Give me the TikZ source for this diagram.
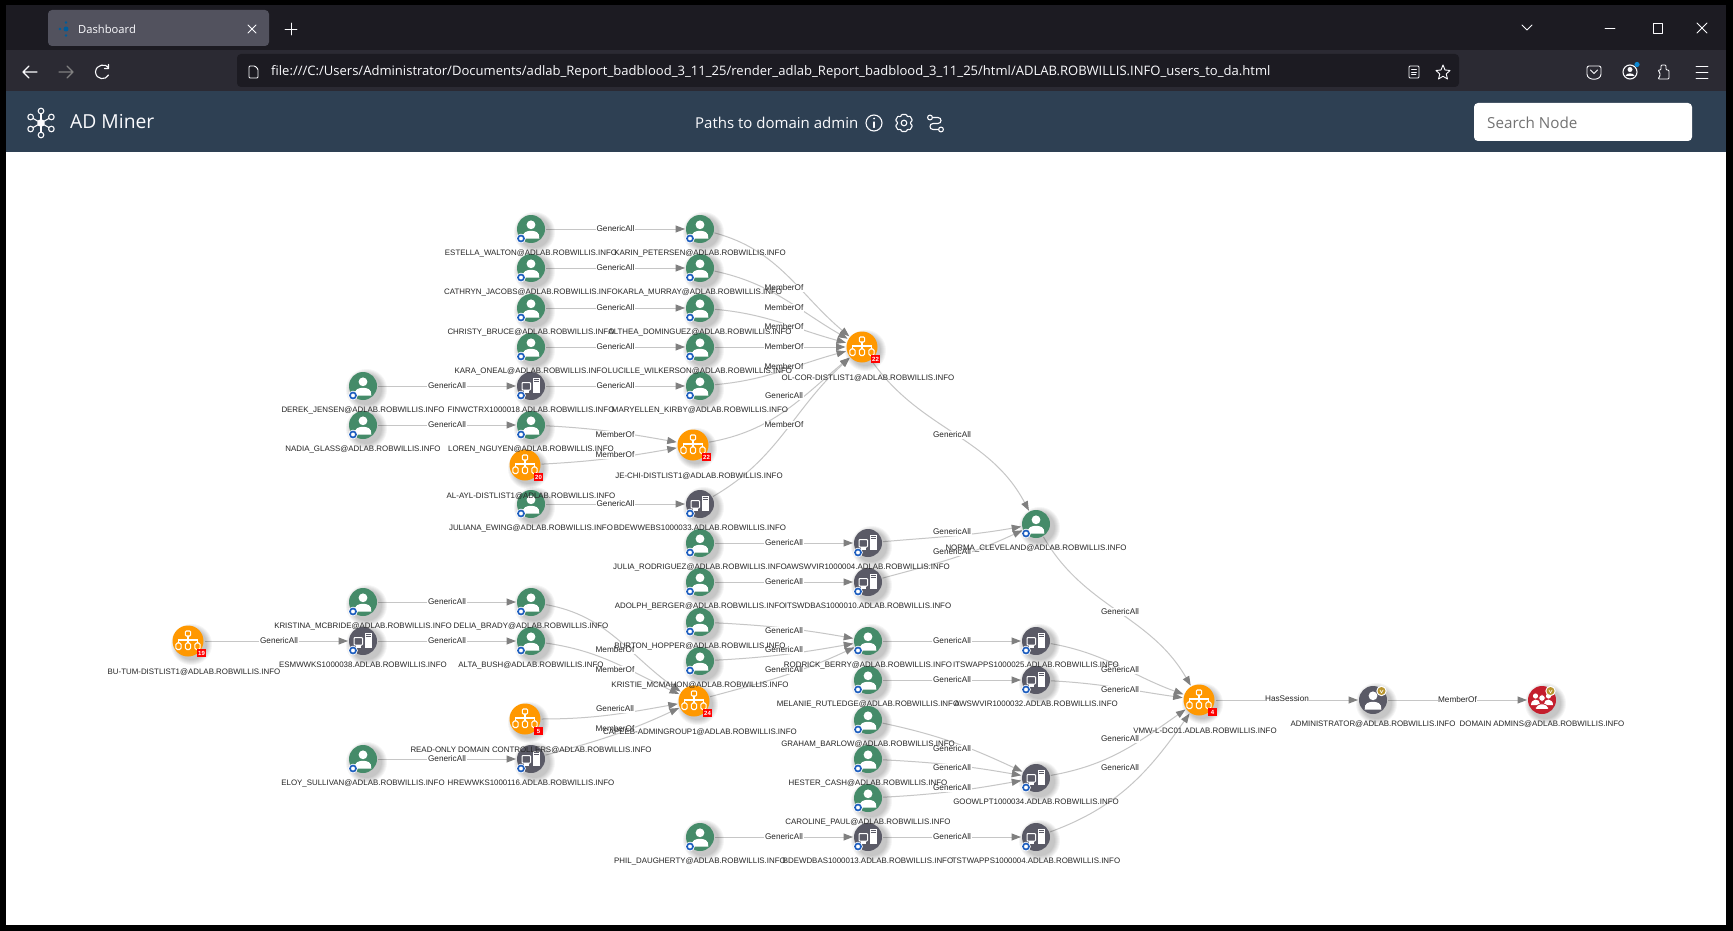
\documentclass[tikz,border=0pt]{standalone}
\usepackage{fontspec}
\setmainfont{Liberation Sans}
\newfontfamily\uifont{Open Sans}
\usetikzlibrary{arrows.meta,calc,positioning}
\definecolor{usergreen}{HTML}{458B69}
\definecolor{hostgray}{HTML}{5A5A66}
\definecolor{orgorange}{HTML}{FF9800}
\definecolor{adminred}{HTML}{C41E2D}
\definecolor{ownedblue}{HTML}{1F5FBF}
\definecolor{goldbadge}{HTML}{B8952E}
\definecolor{linegray}{HTML}{C6C6C6}
\definecolor{tipgray}{HTML}{808080}
\definecolor{tabbar}{HTML}{1C1B22}
\definecolor{tabgray}{HTML}{52525E}
\definecolor{toolbar}{HTML}{2B2A33}
\definecolor{headblue}{HTML}{2E4053}
\definecolor{uitext}{HTML}{FBFBFE}
\pgfdeclarelayer{chrome}
\pgfdeclarelayer{edgelayer}
\pgfdeclarelayer{captions}
\pgfsetlayers{chrome,edgelayer,main,captions}
\tikzset{
  entity/.style={circle, inner sep=0pt, minimum size=28pt, outer sep=1pt},
  userbox/.style={entity, fill=usergreen},
  hostbox/.style={entity, fill=hostgray},
  orgbox/.style={entity, fill=orgorange, minimum size=31pt},
  redbox/.style={entity, fill=adminred},
  caption/.style={inner sep=0pt, text=black!85, text height=6.5pt, text depth=1.5pt, font=\fontsize{7.9}{10}\selectfont},
  edgetext/.style={fill=white, inner sep=.6pt, text=black!85, font=\fontsize{8.2}{10}\selectfont},
  countbox/.style={fill=red, inner sep=0pt, minimum width=9pt, minimum height=7.5pt, text=white, font=\bfseries\fontsize{6}{6}\selectfont},
  uitxt/.style={inner sep=0pt, anchor=west, text=uitext, font=\uifont},
  ui/.style={draw=uitext, line width=1.1pt, line cap=round, line join=round},
  personicon/.pic={
    \fill[white] (0,-4.2) circle (4.4);
    \fill[white] (-8.3,9.5) .. controls (-9,3) and (-4,1.8) .. (0,1.8) .. controls (4,1.8) and (9,3) .. (8.3,9.5) -- cycle;
  },
  hosticon/.pic={
    \draw[white, line width=1pt, rounded corners=.8pt] (-9,-3.5) rectangle (-.5,4);
    \fill[white] (-7,4) rectangle (-2.5,7);
    \fill[white, draw=hostgray, line width=.6pt] (1,-9) rectangle (9.5,7);
    \draw[hostgray, line width=.6pt] (2.5,-6.5) -- (8,-6.5) (2.5,-4.5) -- (8,-4.5);
  },
  orgicon/.pic={
    \draw[white, line width=1.1pt, rounded corners=1pt] (-2.6,-10) rectangle (2.6,-5);
    \draw[white, line width=1.1pt] (0,-5) -- (0,2) (-9.5,2) -- (-9.5,-1) -- (9.5,-1) -- (9.5,2);
    \foreach \bx in {-9.5,0,9.5}
      \draw[white, line width=1.1pt, rounded corners=1.5pt] (\bx-2.6,2) rectangle (\bx+2.6,8.5);
  },
  crowdicon/.pic={
    \fill[white] (-6.5,-4) circle (2.6) (6.5,-4) circle (2.6);
    \fill[white] (-11,5) .. controls (-11,-2) and (-2,-2) .. (-2,4) -- (-3,5) -- cycle;
    \fill[white] (11,5) .. controls (11,-2) and (2,-2) .. (2,4) -- (3,5) -- cycle;
    \fill[white, draw=adminred, line width=.7pt] (0,-2) circle (3.3);
    \fill[white, draw=adminred, line width=.7pt] (-6.5,9.5) .. controls (-7,2) and (7,2) .. (6.5,9.5) -- cycle;
  },
  ownedbadge/.pic={
    \fill[white] (-10,9.5) circle (4.8);
    \draw[ownedblue, line width=1.7pt, fill=white] (-10,9.5) circle (3);
  },
  goldmark/.pic={
    \fill[white] (8.5,-9) circle (5.2);
    \fill[goldbadge] (8.5,-9) circle (4);
    \draw[white, line width=.6pt] (6.8,-10.2) -- (8.5,-7.2) -- (10.2,-10.2);
  },
  every edge/.style={draw=linegray, line width=1pt, -{Triangle[color=tipgray, length=9.5pt, width=7pt]}},
}
\newcommand{\softshadow}[1]{%
  \foreach \r in {20.5,19.5,18.5,17.5,16.5,15.5}
    \fill[black, opacity=.04, shift={(#1)}] (3.5,3.5) circle (\r);
}
\newcommand{\captiontext}[4][]{%
  \begin{pgfonlayer}{captions}
    \node[caption, below=#4 of #2, #1] (#2-text) {#3};
  \end{pgfonlayer}
}
% name, position, caption
\newcommand{\usernode}[3]{%
  \softshadow{#2}
  \node[userbox] (#1) at (#2) {};
  \pic at (#2) {personicon};
  \pic at (#2) {ownedbadge};
  \captiontext{#1}{#3}{4.5pt}
}
\newcommand{\hostnode}[3]{%
  \softshadow{#2}
  \node[hostbox] (#1) at (#2) {};
  \pic at (#2) {hosticon};
  \pic at (#2) {ownedbadge};
  \captiontext{#1}{#3}{4.5pt}
}
% name, position, caption, count
\newcommand{\orgnode}[4]{%
  \softshadow{#2}
  \node[orgbox] (#1) at (#2) {};
  \pic at (#2) {orgicon};
  \node[countbox] (#1-count) at ($(#1)+(13.5,12)$) {#4};
  \captiontext[xshift=6pt]{#1}{#3}{10.5pt}
}
\newcommand{\dom}{@ADLAB.ROBWILLIS.INFO}
\begin{document}
\begin{tikzpicture}[x=1pt, y=-1pt]
\useasboundingbox (0,0) rectangle (1733,931);
\begin{pgfonlayer}{chrome}
% browser window
\fill[black] (0,0) rectangle (1733,931);
\fill[tabbar] (6,5) rectangle (1726,50);
\fill[toolbar] (6,50) rectangle (1726,91);
\fill[headblue] (6,91) rectangle (1726,152);
\fill[white] (6,152) rectangle (1726,925);
\fill[tabgray, rounded corners=4pt] (48,10) rectangle (269,46);
\fill[tabbar, rounded corners=4pt] (237,54) rectangle (1459,87);
\fill[white, rounded corners=4pt] (1474,103) rectangle (1692,141);
\node[uitxt, font=\uifont\fontsize{11.2}{14}\selectfont] (tabtext) at (78,29) {Dashboard};
\node[uitxt, font=\uifont\fontsize{13.05}{15}\selectfont] (urltext) at (271,72) {file:///C:/Users/Administrator/Documents/adlab\_Report\_badblood\_3\_11\_25/render\_adlab\_Report\_badblood\_3\_11\_25/html/ADLAB.ROBWILLIS.INFO\_users\_to\_da.html};
\node[uitxt, font=\uifont\fontsize{19.3}{21}\selectfont] (logotext) at (70,122) {AD Miner};
\node[uitxt, font=\uifont\fontsize{15}{17}\selectfont] (pagetitle) at (695,123) {Paths to domain admin};
\node[uitxt, text=black!55, font=\uifont\fontsize{15.2}{17}\selectfont] (searchtext) at (1487,123) {Search Node};
% favicon, tab buttons
\fill[blue!40!cyan!60!black] (66,29) circle (2.5) (66,22.5) circle (1.3) (66,35.5) circle (1.3) (60,29) circle (1.3);
\draw[ui, line width=.9pt] (248,25) -- (256,33) (256,25) -- (248,33);
\draw[ui, line width=.9pt] (285,29) -- (297,29) (291,23) -- (291,35);
% window buttons
\draw[ui, line width=.8pt] (1522,25) -- (1527,30) -- (1532,25);
\draw[ui, line width=.8pt] (1605,28) -- (1615,28);
\draw[ui, line width=.8pt] (1653,23) rectangle (1662,33);
\draw[ui, line width=.8pt] (1697,23) -- (1707,33) (1707,23) -- (1697,33);
% toolbar
\draw[ui] (23,72) -- (37,72) (29,66) -- (23,72) -- (29,78);
\draw[ui, draw=gray] (59,72) -- (73,72) (67,66) -- (73,72) -- (67,78);
\draw[ui] (108.5,67.5) .. controls (106,63.5) and (96,64) .. (95.5,72) .. controls (96,80) and (106,80.5) .. (108.5,75) (108.5,64.5) -- (108.5,68.5) -- (104.5,68.5);
\draw[ui, line width=.9pt, rounded corners=1pt] (249,66) -- (255,66) -- (258,69) -- (258,78) -- (249,78) -- cycle;
\draw[ui, line width=.9pt, rounded corners=1pt] (1409,66) rectangle (1419,78);
\draw[ui, line width=.8pt] (1411.5,69.5) -- (1416.5,69.5) (1411.5,72) -- (1416.5,72) (1411.5,74.5) -- (1416,74.5);
\draw[ui, line width=.9pt] (1443,65) -- (1445,70) -- (1450,70.5) -- (1446.2,74) -- (1447.5,79) -- (1443,76.3) -- (1438.5,79) -- (1439.8,74) -- (1436,70.5) -- (1441,70) -- cycle;
\draw[ui, line width=.9pt, rounded corners=2pt] (1587,66) -- (1601,66) -- (1601,72) .. controls (1601,81) and (1587,81) .. (1587,72) -- cycle;
\draw[ui, line width=.9pt] (1590.5,70) -- (1594,73.5) -- (1597.5,70);
\draw[ui] (1630,72) circle (7);
\fill[uitext] (1630,69.5) circle (2.5);
\fill[uitext] (1625.5,76) .. controls (1626,72.5) and (1634,72.5) .. (1634.5,76) -- cycle;
\fill[cyan!70!blue] (1637,64.5) circle (2.6);
\draw[ui, line width=.9pt, rounded corners=1pt] (1658,79) -- (1669,79) -- (1669,70) -- (1666,70) -- (1666,65) -- (1661,65) -- (1661,70) -- (1658,70) -- (1660,73) -- (1660,76) -- cycle;
\draw[ui, line width=.9pt] (1696,66) -- (1708,66) (1696,72) -- (1708,72) (1696,78) -- (1708,78);
% header icons
\foreach \a in {30,90,150,210,270,330} {
  \draw[ui] (41,123) -- ++(\a:9);
  \draw[ui, fill=headblue] ($(41,123)+(\a:12)$) circle (2.8);
}
\fill[uitext] (41,123) circle (3.8);
\draw[ui] (874,123) circle (8);
\draw[ui] (874,122) -- (874,127.5);
\fill[uitext] (874,118.5) circle (1);
\draw[ui] (904,123) circle (2.8);
\draw[ui, rounded corners=.8pt] (901.5,114.5) -- (906.5,114.5) -- (907.5,117) -- (910,116) -- (912.5,120.5) -- (910.5,122) -- (910.5,124) -- (912.5,125.5) -- (910,130) -- (907.5,129) -- (906.5,131.5) -- (901.5,131.5) -- (900.5,129) -- (898,130) -- (895.5,125.5) -- (897.5,124) -- (897.5,122) -- (895.5,120.5) -- (898,116) -- (900.5,117) -- cycle;
\draw[ui] (930,117.5) circle (2.4) (941,129.5) circle (2.4);
\draw[ui] (932.4,117.5) -- (938,117.5) .. controls (942,117.5) and (942,123.5) .. (938,123.5) -- (933,123.5) .. controls (929,123.5) and (929,129.5) .. (933,129.5) -- (938.6,129.5);
\end{pgfonlayer}
% row by row, left to right
\orgnode{butum}{188,641}{BU-TUM-DISTLIST1\dom}{19}
\usernode{derek}{363,386}{DEREK\_JENSEN\dom}
\usernode{nadia}{363,425}{NADIA\_GLASS\dom}
\usernode{kristina}{363,602}{KRISTINA\_MCBRIDE\dom}
\hostnode{esmw}{363,641}{ESMWWKS1000038.ADLAB.ROBWILLIS.INFO}
\usernode{eloy}{363,759}{ELOY\_SULLIVAN\dom}
\usernode{estella}{531,229}{ESTELLA\_WALTON\dom}
\usernode{cathryn}{531,268}{CATHRYN\_JACOBS\dom}
\usernode{christy}{531,308}{CHRISTY\_BRUCE\dom}
\usernode{kara}{531,347}{KARA\_ONEAL\dom}
\hostnode{finw}{531,386}{FINWCTRX1000018.ADLAB.ROBWILLIS.INFO}
\usernode{loren}{531,425}{LOREN\_NGUYEN\dom}
\usernode{juliana}{531,504}{JULIANA\_EWING\dom}
\orgnode{alayl}{525,465}{AL-AYL-DISTLIST1\dom}{20}
\usernode{delia}{531,602}{DELIA\_BRADY\dom}
\usernode{alta}{531,641}{ALTA\_BUSH\dom}
\orgnode{readonly}{525,719}{READ-ONLY DOMAIN CONTROLLERS\dom}{5}
\hostnode{hrew}{531,759}{HREWWKS1000116.ADLAB.ROBWILLIS.INFO}
\usernode{karin}{700,229}{KARIN\_PETERSEN\dom}
\usernode{karla}{700,268}{KARLA\_MURRAY\dom}
\usernode{althea}{700,308}{ALTHEA\_DOMINGUEZ\dom}
\usernode{lucille}{700,347}{LUCILLE\_WILKERSON\dom}
\usernode{maryellen}{700,386}{MARYELLEN\_KIRBY\dom}
\orgnode{jechi}{693,445}{JE-CHI-DISTLIST1\dom}{22}
\hostnode{bdewwebs}{700,504}{BDEWWEBS1000033.ADLAB.ROBWILLIS.INFO}
\usernode{julia}{700,543}{JULIA\_RODRIGUEZ\dom}
\usernode{adolph}{700,582}{ADOLPH\_BERGER\dom}
\usernode{burton}{700,622}{BURTON\_HOPPER\dom}
\usernode{kristie}{700,661}{KRISTIE\_MCMAHON\dom}
\orgnode{capeeb}{694,701}{CAPEEB-ADMINGROUP1\dom}{24}
\usernode{phil}{700,837}{PHIL\_DAUGHERTY\dom}
\orgnode{olcor}{862,347}{OL-COR-DISTLIST1\dom}{22}
\hostnode{awsw}{868,543}{AWSWVIR1000004.ADLAB.ROBWILLIS.INFO}
\hostnode{itsw}{868,582}{ITSWDBAS1000010.ADLAB.ROBWILLIS.INFO}
\usernode{rodrick}{868,641}{RODRICK\_BERRY\dom}
\usernode{melanie}{868,680}{MELANIE\_RUTLEDGE\dom}
\usernode{graham}{868,720}{GRAHAM\_BARLOW\dom}
\usernode{hester}{868,759}{HESTER\_CASH\dom}
\usernode{caroline}{868,798}{CAROLINE\_PAUL\dom}
\hostnode{bdewdbas}{868,837}{BDEWDBAS1000013.ADLAB.ROBWILLIS.INFO}
\usernode{norma}{1036,524}{NORMA\_CLEVELAND\dom}
\hostnode{itswapps}{1036,641}{ITSWAPPS1000025.ADLAB.ROBWILLIS.INFO}
\hostnode{awswtwo}{1036,680}{AWSWVIR1000032.ADLAB.ROBWILLIS.INFO}
\hostnode{goow}{1036,778}{GOOWLPT1000034.ADLAB.ROBWILLIS.INFO}
\hostnode{tstw}{1036,837}{TSTWAPPS1000004.ADLAB.ROBWILLIS.INFO}
\orgnode{vmw}{1199,700}{VMW-L-DC01.ADLAB.ROBWILLIS.INFO}{4}
% the two admin nodes
\softshadow{1373,700}
\node[hostbox] (admin) at (1373,700) {};
\pic at (1373,700) {personicon};
\pic at (1373,700) {goldmark};
\captiontext{admin}{ADMINISTRATOR\dom}{4.5pt}
\softshadow{1542,700}
\node[redbox] (domadmins) at (1542,700) {};
\pic at (1542,700) {crowdicon};
\pic at (1542,700) {goldmark};
\captiontext{domadmins}{DOMAIN ADMINS\dom}{4.5pt}
\begin{pgfonlayer}{edgelayer}
\path[every node/.style=edgetext]
(estella) edge node {GenericAll} (karin)
(cathryn) edge node {GenericAll} (karla)
(christy) edge node {GenericAll} (althea)
(kara) edge node {GenericAll} (lucille)
(derek) edge node {GenericAll} (finw)
(finw) edge node {GenericAll} (maryellen)
(nadia) edge node {GenericAll} (loren)
(juliana) edge node {GenericAll} (bdewwebs)
(julia) edge node {GenericAll} (awsw)
(adolph) edge node {GenericAll} (itsw)
(kristina) edge node {GenericAll} (delia)
(esmw) edge node {GenericAll} (alta)
(eloy) edge node {GenericAll} (hrew)
(rodrick) edge node {GenericAll} (itswapps)
(melanie) edge node {GenericAll} (awswtwo)
(phil) edge node {GenericAll} (bdewdbas)
(bdewdbas) edge node {GenericAll} (tstw)
(admin) edge node {MemberOf} (domadmins)
;
\path
(butum) edge (esmw)
(vmw) edge (admin)
(lucille) edge (olcor)
(karin) edge[out=-15, in=140] (olcor)
(karla) edge[out=-12, in=150] (olcor)
(althea) edge[out=-5, in=165] (olcor)
(maryellen) edge[out=5, in=195] (olcor)
(jechi) edge[out=10, in=220] (olcor)
(bdewwebs) edge[out=30, in=222] (olcor)
(loren) edge[out=-3, in=170] (jechi)
(alayl) edge[out=3, in=190] (jechi)
(olcor) edge[out=-55, in=118] (norma)
(awsw) edge[out=5, in=190] (norma)
(itsw) edge[out=15, in=205] (norma)
(norma) edge[out=-60, in=120] (vmw)
(itswapps) edge[out=-10, in=160] (vmw)
(awswtwo) edge[out=-3, in=172] (vmw)
(goow) edge[out=10, in=215] (vmw)
(tstw) edge[out=20, in=235] (vmw)
(delia) edge[out=-10, in=145] (capeeb)
(alta) edge[out=-8, in=155] (capeeb)
(readonly) edge[out=0, in=190] (capeeb)
(hrew) edge[out=15, in=205] (capeeb)
(burton) edge[out=-3, in=170] (rodrick)
(kristie) edge[out=3, in=190] (rodrick)
(capeeb) edge[out=15, in=205] (rodrick)
(graham) edge[out=-12, in=155] (goow)
(hester) edge[out=-3, in=170] (goow)
(caroline) edge[out=3, in=190] (goow)
;
% labels of the edges above, where the viewer put them
\foreach \spot/\lbl [count=\i] in {
  {279,641}/GenericAll, {1287,699}/HasSession, {784,347}/MemberOf,
  {784,288}/MemberOf, {784,308}/MemberOf, {784,327}/MemberOf, {784,367}/MemberOf,
  {784,396}/GenericAll, {784,425}/MemberOf, {615,435}/MemberOf, {615,455}/MemberOf,
  {952,435}/GenericAll, {952,532}/GenericAll, {952,552}/GenericAll, {1120,612}/GenericAll,
  {1120,670}/GenericAll, {1120,690}/GenericAll, {1120,739}/GenericAll, {1120,768}/GenericAll,
  {615,650}/MemberOf, {615,670}/MemberOf, {615,709}/GenericAll, {615,729}/MemberOf,
  {784,631}/GenericAll, {784,650}/GenericAll, {784,670}/GenericAll,
  {952,749}/GenericAll, {952,768}/GenericAll, {952,788}/GenericAll}
  \node[edgetext] (edgelabel\i) at (\spot) {\lbl};
\end{pgfonlayer}
\end{tikzpicture}
\end{document}
